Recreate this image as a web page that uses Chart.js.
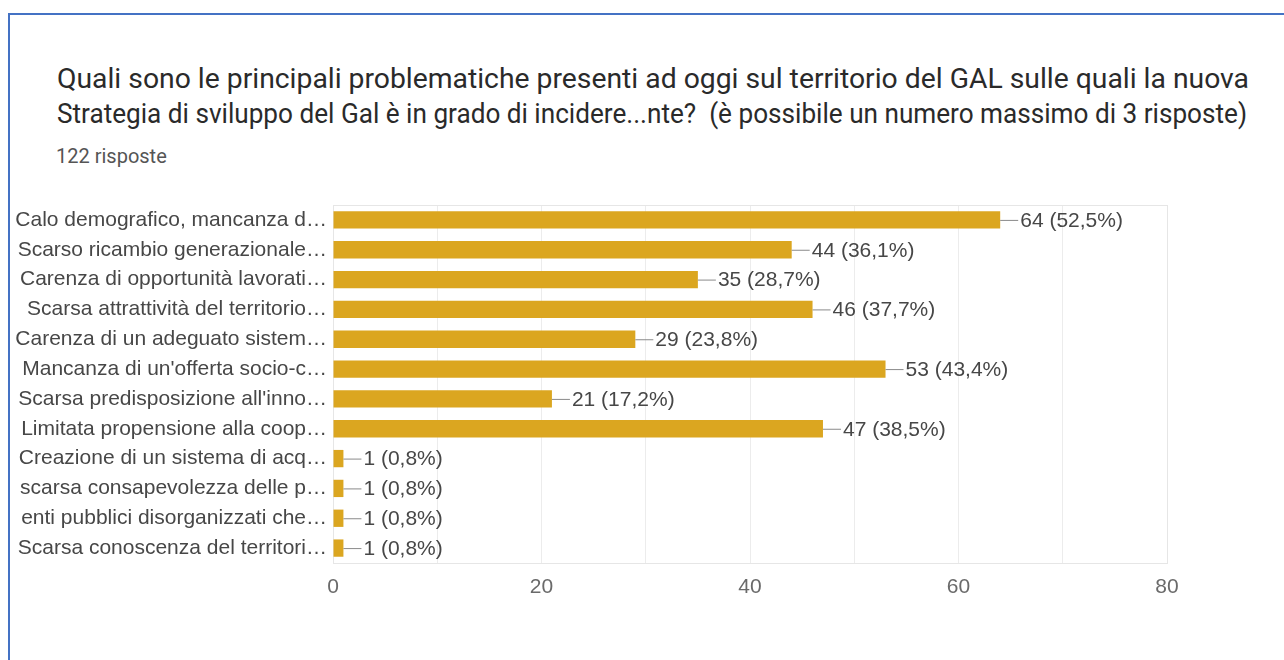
<!DOCTYPE html>
<html>
<head>
<meta charset="utf-8">
<script src="https://cdn.jsdelivr.net/npm/chart.js@4"></script>
<style>
  html, body { margin: 0; padding: 0; background: #fff; }
  body { width: 1284px; height: 660px; position: relative; overflow: hidden; font-family: Roboto, Arial, sans-serif; }
  #frame { position: absolute; left: 8px; top: 13px; right: 0; bottom: 0; border-top: 2px solid #4472c4; border-left: 2px solid #4472c4; }
  .tl { position: absolute; left: 57px; font-size: 27px; line-height: 35px; color: #2a2a2a; white-space: nowrap; transform-origin: left center; }
  #sub { position: absolute; left: 56px; top: 144px; font-size: 20px; color: #555; }
  #wrap { position: absolute; left: 0; top: 0; width: 1284px; height: 660px; }
</style>
</head>
<body>
<div id="frame"></div>
<div class="tl" id="t1" style="top:62px" data-w="1192">Quali sono le principali problematiche presenti ad oggi sul territorio del GAL sulle quali la nuova</div>
<div class="tl" id="t2" style="top:97px" data-w="1190">Strategia di sviluppo del Gal è in grado di incidere...nte?&nbsp; (è possibile un numero massimo di 3 risposte)</div>
<div id="sub">122 risposte</div>
<div id="wrap"><canvas id="chart" width="1284" height="660"></canvas></div>
<script>
const categories = [
    'Calo demografico, mancanza d…',
    'Scarso ricambio generazionale…',
    'Carenza di opportunità lavorati…',
    'Scarsa attrattività del territorio…',
    'Carenza di un adeguato sistem…',
    "Mancanza di un'offerta socio-c…",
    "Scarsa predisposizione all'inno…",
    'Limitata propensione alla coop…',
    'Creazione di un sistema di acq…',
    'scarsa consapevolezza delle p…',
    'enti pubblici disorganizzati che…',
    'Scarsa conoscenza del territori…'
];
const risposte = [64, 44, 35, 46, 29, 53, 21, 47, 1, 1, 1, 1];
const percentuali = ['52,5%', '36,1%', '28,7%', '37,7%', '23,8%', '43,4%', '17,2%', '38,5%', '0,8%', '0,8%', '0,8%', '0,8%'];
const xTicks = [0, 20, 40, 60, 80];

const chartFont = '"Liberation Sans", Arial, sans-serif';

// le due righe del titolo hanno larghezze diverse nell'originale
document.querySelectorAll('.tl').forEach(el => {
    const w = el.getBoundingClientRect().width;
    el.style.transform = 'scaleX(' + (Number(el.dataset.w) / w) + ')';
});

// etichette "—64 (52,5%)" a destra delle barre
const valueLabels = {
    id: 'valueLabels',
    afterDatasetsDraw(chart) {
        const ctx = chart.ctx;
        const meta = chart.getDatasetMeta(0);
        ctx.save();
        ctx.font = '21px ' + chartFont;
        ctx.textBaseline = 'middle';
        meta.data.forEach((bar, i) => {
            const x = bar.x, y = bar.y;
            ctx.strokeStyle = '#8a8a8a';
            ctx.lineWidth = 1;
            ctx.beginPath();
            ctx.moveTo(x, y + 0.5);
            ctx.lineTo(x + 18, y + 0.5);
            ctx.stroke();
            ctx.fillStyle = '#474747';
            ctx.fillText(risposte[i] + ' (' + percentuali[i] + ')', x + 20, y + 1);
        });
        ctx.restore();
    }
};

// riquadro chiaro attorno all'area del grafico
const areaBox = {
    id: 'areaBox',
    beforeDatasetsDraw(chart) {
        const a = chart.chartArea, ctx = chart.ctx;
        ctx.save();
        ctx.strokeStyle = '#e6e6e6';
        ctx.lineWidth = 1;
        ctx.strokeRect(a.left + 0.5, a.top + 0.5, a.right - a.left, a.bottom - a.top);
        ctx.restore();
    }
};

new Chart(document.getElementById('chart'), {
    type: 'bar',
    data: {
        labels: categories,
        datasets: [{
            data: risposte,
            backgroundColor: '#dba620',
            borderWidth: 0,
            barPercentage: 0.58,
            categoryPercentage: 1
        }]
    },
    options: {
        indexAxis: 'y',
        responsive: false,
        animation: false,
        layout: { padding: { left: 0, top: 205, right: 117, bottom: 0 } },
        plugins: { legend: { display: false }, tooltip: { enabled: false } },
        scales: {
            x: {
                min: 0, max: 80,
                afterFit: (s) => { s.height = 97; },
                grid: { color: '#ececec', drawTicks: false },
                border: { display: false },
                ticks: {
                    stepSize: 10,
                    padding: 12,
                    color: '#6a6a6a',
                    font: { family: chartFont, size: 21 },
                    callback: (v) => xTicks.includes(v) ? v : ''
                }
            },
            y: {
                afterFit: (s) => { s.width = 333; },
                grid: { display: false, drawTicks: false },
                border: { display: true, color: '#555', width: 1 },
                ticks: {
                    padding: 6,
                    color: '#474747',
                    font: { family: chartFont, size: 21 },
                    autoSkip: false
                }
            }
        }
    },
    plugins: [areaBox, valueLabels]
});
</script>
</body>
</html>
